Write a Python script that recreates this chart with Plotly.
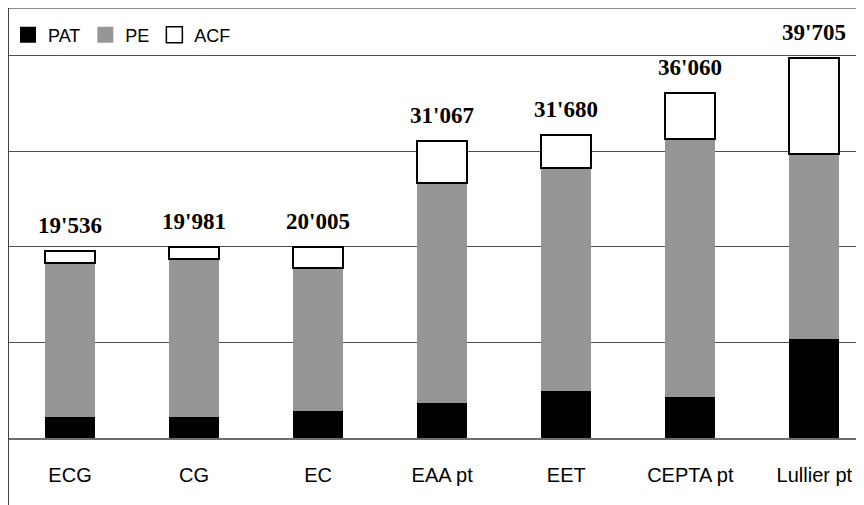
import plotly.graph_objects as go

categories = ["ECG", "CG", "EC", "EAA pt", "EET", "CEPTA pt", "Lullier pt"]
pat = [2200, 2200, 2820, 3660, 4920, 4290, 10360]
acf = [1255, 1300, 2260, 4435, 3450, 4810, 10040]
totals = [19536, 19981, 20005, 31067, 31680, 36060, 39705]
total_labels = ["19'536", "19'981", "20'005", "31'067", "31'680", "36'060", "39'705"]
pe = [t - a - b for t, a, b in zip(totals, pat, acf)]

SANS = "Liberation Sans, Arial, sans-serif"
SERIF = "Liberation Serif, Times New Roman, serif"

# the page body has an 8px margin, so the figure starts at (8, 8)
W, H = 856, 497
ML, MR, MT, MB = 0, 0, 0, 67

fig = go.Figure()
fig.add_trace(go.Bar(x=categories, y=pat, name="PAT", marker=dict(color="#000000", line=dict(width=0)), showlegend=False))
fig.add_trace(go.Bar(x=categories, y=pe, name="PE", marker=dict(color="#969696", line=dict(width=0)), showlegend=False))
fig.add_trace(go.Bar(x=categories, y=acf, name="ACF", marker=dict(color="#ffffff", line=dict(color="#000000", width=2)), showlegend=False))

# legend entries
for name, fill, lw in [("PAT", "#000000", 0), ("PE", "#969696", 0), ("ACF", "#ffffff", 1.5)]:
    fig.add_trace(go.Scatter(x=[None], y=[None], mode="markers", name=name,
                             marker=dict(symbol="square", size=16, color=fill,
                                         line=dict(color="#000000", width=lw))))

for c, t, lab in zip(categories, totals, total_labels):
    fig.add_annotation(x=c, y=t, text="<b>" + lab + "</b>", showarrow=False,
                       yanchor="bottom", yshift=11,
                       font=dict(family=SERIF, size=23, color="#000000"))

plot_h = H - MT - MB
fig.update_layout(
    width=W, height=H,
    margin=dict(l=ML, r=MR, t=MT, b=MB, pad=0),
    paper_bgcolor="#ffffff", plot_bgcolor="#ffffff",
    barmode="stack", bargap=0.597,
    showlegend=True,
    legend=dict(orientation="h", x=0.0, xanchor="left", y=1 - 27 / plot_h, yanchor="middle",
                font=dict(family=SANS, size=18, color="#000000"),
                bgcolor="rgba(0,0,0,0)", borderwidth=0, itemwidth=30,
                traceorder="normal"),
    xaxis=dict(type="category", range=[-0.5, 6.4], showgrid=False, ticks="",
               showline=True, linecolor="#6e6e6e", linewidth=2,
               tickfont=dict(family=SANS, size=20, color="#000000"),
               ticklabelstandoff=18, fixedrange=True),
    yaxis=dict(range=[0, 44980], dtick=10000, showgrid=True, gridcolor="#505050", gridwidth=1,
               showticklabels=False, ticks="", zeroline=False, showline=False, fixedrange=True),
    shapes=[
        dict(type="line", xref="paper", yref="paper", x0=0, x1=1, y0=1, y1=1,
             line=dict(color="#8a8a8a", width=2)),
        dict(type="line", xref="paper", yref="paper", x0=0, x1=0, y0=-MB / plot_h, y1=1,
             line=dict(color="#404040", width=2)),
    ],
)

fig.write_html("out.html")
